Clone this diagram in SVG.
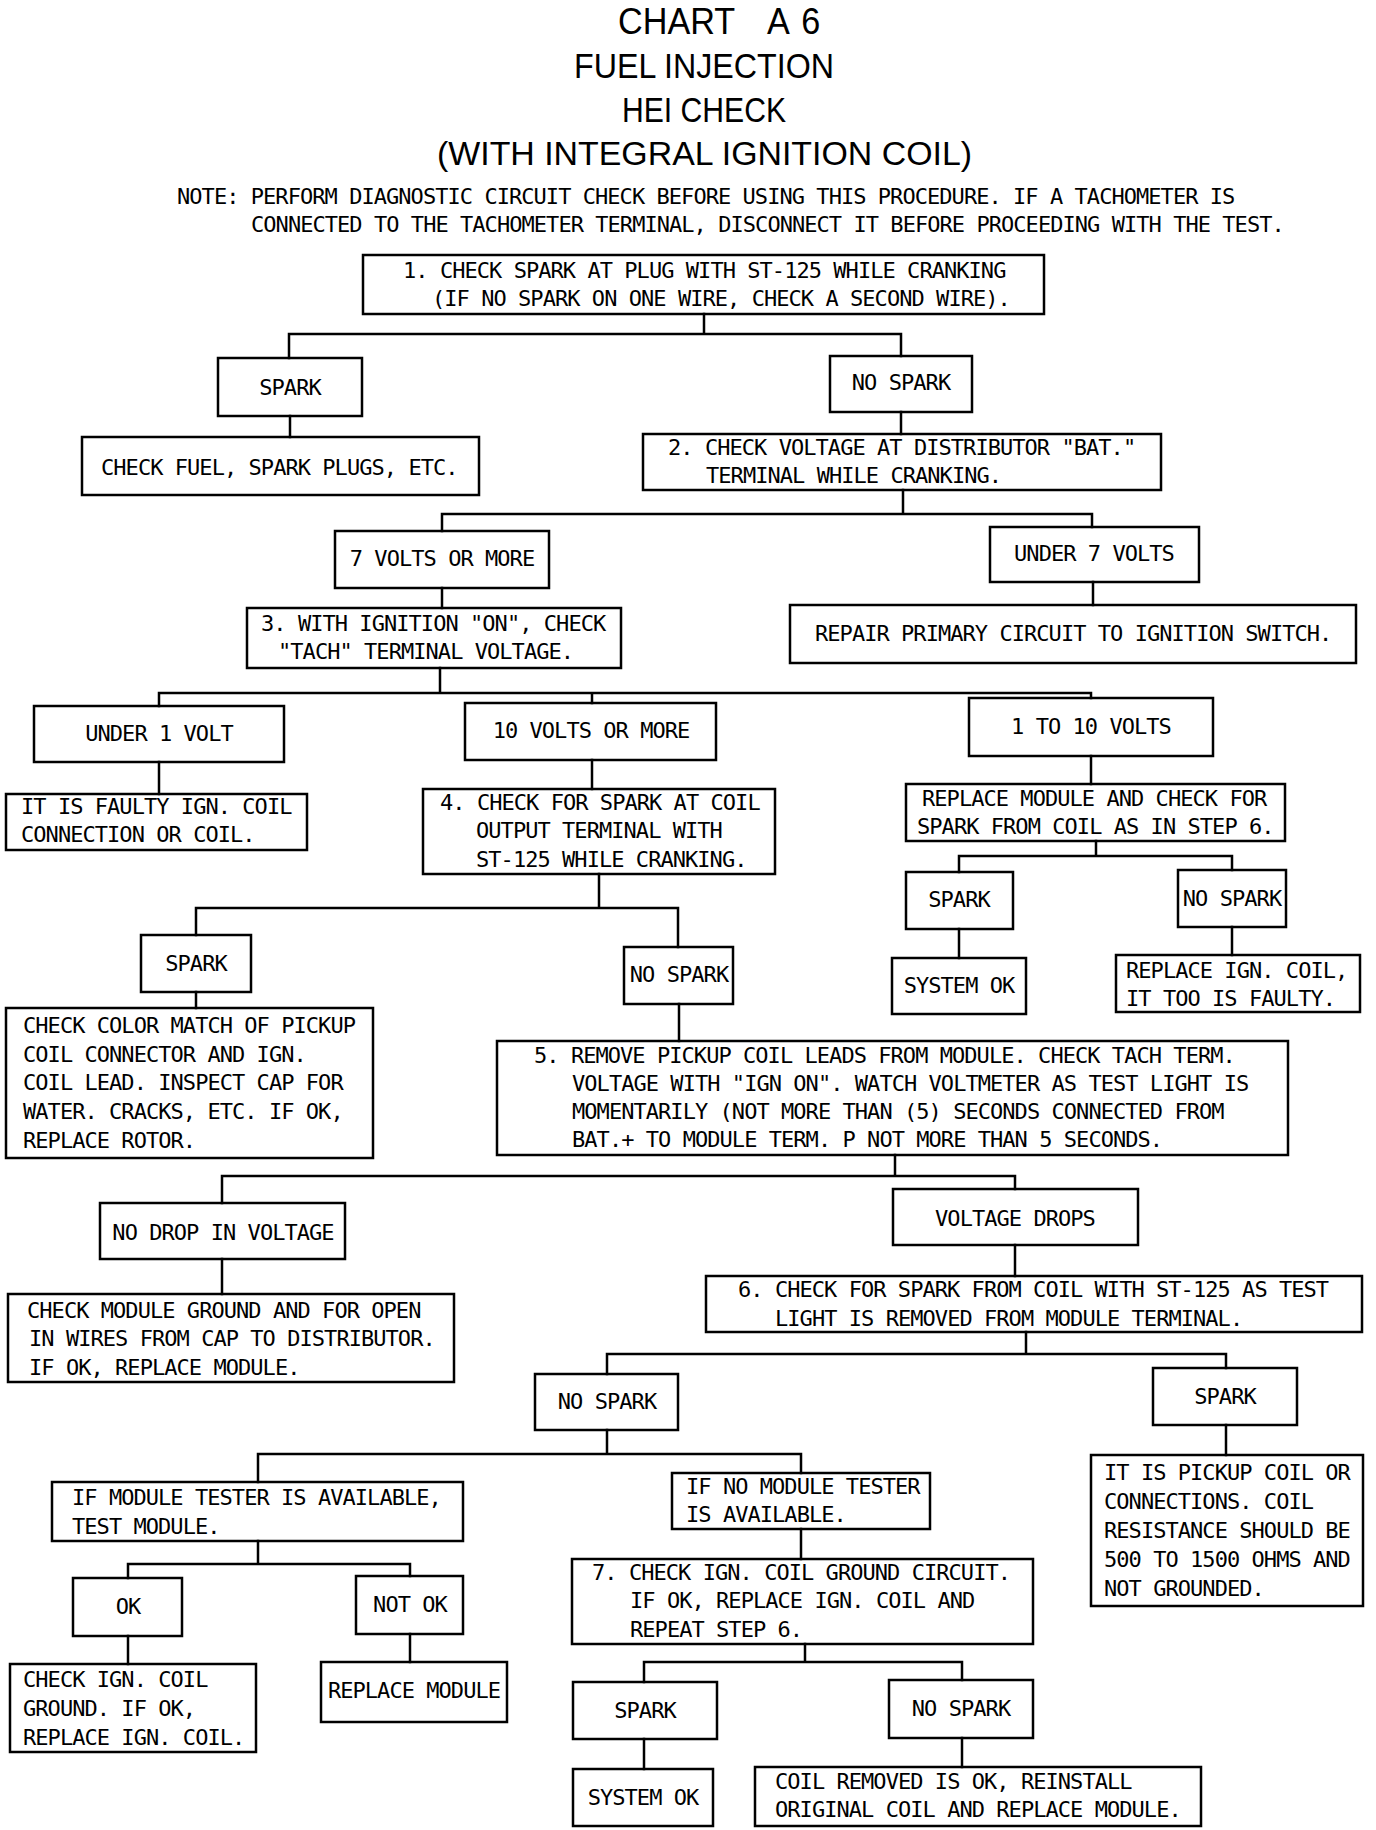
<svg xmlns="http://www.w3.org/2000/svg" width="1376" height="1830" viewBox="0 0 1376 1830">
<style>
.b{fill:none;stroke:#000;stroke-width:2.5}
.t{font-family:"DejaVu Sans Mono",monospace;font-size:22px;letter-spacing:-0.95px;fill:#000}
.c{text-anchor:middle}
.h{font-family:"Liberation Sans",sans-serif;fill:#000}
#connectors path{fill:none;stroke:#000;stroke-width:2.5;stroke-linecap:square}
</style>
<rect width="1376" height="1830" fill="#fff"/>
<g id="title">
<text class="h" font-size="37" transform="translate(618 34) scale(0.925 1)">CHART <tspan x="161">A</tspan><tspan x="198">6</tspan></text>
<text class="h" x="574" y="78" font-size="35" textLength="260" lengthAdjust="spacingAndGlyphs">FUEL INJECTION</text>
<text class="h" x="622" y="122" font-size="35" textLength="164" lengthAdjust="spacingAndGlyphs">HEI CHECK</text>
<text class="h" x="437" y="165" font-size="33" textLength="535" lengthAdjust="spacingAndGlyphs">(WITH INTEGRAL IGNITION COIL)</text>
<text class="t" x="177" y="204">NOTE: PERFORM DIAGNOSTIC CIRCUIT CHECK BEFORE USING THIS PROCEDURE. IF A TACHOMETER IS</text>
<text class="t" x="251" y="232">CONNECTED TO THE TACHOMETER TERMINAL, DISCONNECT IT BEFORE PROCEEDING WITH THE TEST.</text>
</g>
<g id="connectors">
<path d="M704 314V334M289 334H901M289 334V358M901 334V356"/>
<path d="M290 416V437"/>
<path d="M901 412V434"/>
<path d="M903 490V514M442 514H1092M442 514V531M1092 514V527"/>
<path d="M442 588V608"/>
<path d="M1093 582V605"/>
<path d="M440 668V693M159 693H1091M159 693V706M592 693V703M1091 693V698"/>
<path d="M159 762V794"/>
<path d="M592 760V789"/>
<path d="M599 874V908M196 908H678M196 908V935M678 908V947"/>
<path d="M196 992V1008"/>
<path d="M679 1004V1041"/>
<path d="M1091 756V784"/>
<path d="M1096 841V856M959 856H1232M959 856V872M1232 856V870"/>
<path d="M959 929V958"/>
<path d="M1232 927V955"/>
<path d="M895 1155V1176M222 1176H1015M222 1176V1203M1015 1176V1189"/>
<path d="M222 1259V1294"/>
<path d="M1015 1245V1276"/>
<path d="M1026 1332V1354M607 1354H1226M607 1354V1374M1226 1354V1368"/>
<path d="M1226 1425V1455"/>
<path d="M607 1430V1454M258 1454H801M258 1454V1482M801 1454V1473"/>
<path d="M258 1541V1564M128 1564H410M128 1564V1578M410 1564V1576"/>
<path d="M128 1636V1664"/>
<path d="M410 1634V1662"/>
<path d="M801 1529V1559"/>
<path d="M805 1644V1662M644 1662H962M644 1662V1682M962 1662V1680"/>
<path d="M644 1739V1769"/>
<path d="M962 1738V1767"/>
</g>
<g id="n1"><rect class="b" x="363" y="255" width="681" height="59"/>
<text class="t" x="403" y="278">1. CHECK SPARK AT PLUG WITH ST-125 WHILE CRANKING</text>
<text class="t" x="432" y="306">(IF NO SPARK ON ONE WIRE, CHECK A SECOND WIRE).</text></g>
<g id="n1spark"><rect class="b" x="218" y="358" width="144" height="58"/><text class="t c" x="290" y="395">SPARK</text></g>
<g id="n1fuel"><rect class="b" x="82" y="437" width="397" height="58"/><text class="t" x="101" y="475">CHECK FUEL, SPARK PLUGS, ETC.</text></g>
<g id="n1nospark"><rect class="b" x="830" y="356" width="142" height="56"/><text class="t c" x="901" y="390">NO SPARK</text></g>
<g id="n2"><rect class="b" x="643" y="434" width="518" height="56"/>
<text class="t" x="668" y="455">2. CHECK VOLTAGE AT DISTRIBUTOR "BAT."</text>
<text class="t" x="706" y="483">TERMINAL WHILE CRANKING.</text></g>
<g id="n2more"><rect class="b" x="335" y="531" width="214" height="57"/><text class="t c" x="442" y="566">7 VOLTS OR MORE</text></g>
<g id="n2under"><rect class="b" x="990" y="527" width="209" height="55"/><text class="t c" x="1094" y="561">UNDER 7 VOLTS</text></g>
<g id="n2repair"><rect class="b" x="790" y="605" width="566" height="58"/><text class="t" x="815" y="641">REPAIR PRIMARY CIRCUIT TO IGNITION SWITCH.</text></g>
<g id="n3"><rect class="b" x="247" y="608" width="374" height="60"/>
<text class="t" x="261" y="631">3. WITH IGNITION "ON", CHECK</text>
<text class="t" x="278" y="659">"TACH" TERMINAL VOLTAGE.</text></g>
<g id="n3under"><rect class="b" x="34" y="706" width="250" height="56"/><text class="t c" x="159" y="741">UNDER 1 VOLT</text></g>
<g id="n3more"><rect class="b" x="465" y="703" width="251" height="57"/><text class="t c" x="591" y="738">10 VOLTS OR MORE</text></g>
<g id="n3mid"><rect class="b" x="969" y="698" width="244" height="58"/><text class="t c" x="1091" y="734">1 TO 10 VOLTS</text></g>
<g id="n3faulty"><rect class="b" x="6" y="794" width="301" height="56"/>
<text class="t" x="21" y="814">IT IS FAULTY IGN. COIL</text>
<text class="t" x="21" y="842">CONNECTION OR COIL.</text></g>
<g id="n4"><rect class="b" x="423" y="789" width="352" height="85"/>
<text class="t" x="440" y="810">4. CHECK FOR SPARK AT COIL</text>
<text class="t" x="476" y="838">OUTPUT TERMINAL WITH</text>
<text class="t" x="476" y="867">ST-125 WHILE CRANKING.</text></g>
<g id="n4spark"><rect class="b" x="141" y="935" width="110" height="57"/><text class="t c" x="196" y="971">SPARK</text></g>
<g id="n4color"><rect class="b" x="6" y="1008" width="367" height="150"/>
<text class="t" x="23" y="1033">CHECK COLOR MATCH OF PICKUP</text>
<text class="t" x="23" y="1062">COIL CONNECTOR AND IGN.</text>
<text class="t" x="23" y="1090">COIL LEAD. INSPECT CAP FOR</text>
<text class="t" x="23" y="1119">WATER. CRACKS, ETC. IF OK,</text>
<text class="t" x="23" y="1148">REPLACE ROTOR.</text></g>
<g id="n4nospark"><rect class="b" x="624" y="947" width="109" height="57"/><text class="t c" x="679" y="982">NO SPARK</text></g>
<g id="n5"><rect class="b" x="497" y="1041" width="791" height="114"/>
<text class="t" x="534" y="1063">5. REMOVE PICKUP COIL LEADS FROM MODULE. CHECK TACH TERM.</text>
<text class="t" x="572" y="1091">VOLTAGE WITH "IGN ON". WATCH VOLTMETER AS TEST LIGHT IS</text>
<text class="t" x="572" y="1119">MOMENTARILY (NOT MORE THAN (5) SECONDS CONNECTED FROM</text>
<text class="t" x="572" y="1147">BAT.+ TO MODULE TERM. P NOT MORE THAN 5 SECONDS.</text></g>
<g id="nrepmod"><rect class="b" x="906" y="784" width="379" height="57"/>
<text class="t" x="922" y="806">REPLACE MODULE AND CHECK FOR</text>
<text class="t" x="917" y="834">SPARK FROM COIL AS IN STEP 6.</text></g>
<g id="nrepspark"><rect class="b" x="906" y="872" width="107" height="57"/><text class="t c" x="959" y="907">SPARK</text></g>
<g id="nrepnospark"><rect class="b" x="1178" y="870" width="108" height="57"/><text class="t c" x="1232" y="906">NO SPARK</text></g>
<g id="nrepok"><rect class="b" x="892" y="958" width="134" height="56"/><text class="t c" x="959" y="993">SYSTEM OK</text></g>
<g id="nrepcoil"><rect class="b" x="1116" y="955" width="244" height="57"/>
<text class="t" x="1126" y="978">REPLACE IGN. COIL,</text>
<text class="t" x="1126" y="1006">IT TOO IS FAULTY.</text></g>
<g id="n5nodrop"><rect class="b" x="100" y="1203" width="245" height="56"/><text class="t c" x="223" y="1240">NO DROP IN VOLTAGE</text></g>
<g id="n5ground"><rect class="b" x="8" y="1294" width="446" height="88"/>
<text class="t" x="27" y="1318">CHECK MODULE GROUND AND FOR OPEN</text>
<text class="t" x="29" y="1346">IN WIRES FROM CAP TO DISTRIBUTOR.</text>
<text class="t" x="29" y="1375">IF OK, REPLACE MODULE.</text></g>
<g id="n5drops"><rect class="b" x="893" y="1189" width="245" height="56"/><text class="t c" x="1015" y="1226">VOLTAGE DROPS</text></g>
<g id="n6"><rect class="b" x="706" y="1276" width="656" height="56"/>
<text class="t" x="738" y="1297">6. CHECK FOR SPARK FROM COIL WITH ST-125 AS TEST</text>
<text class="t" x="775" y="1326">LIGHT IS REMOVED FROM MODULE TERMINAL.</text></g>
<g id="n6nospark"><rect class="b" x="535" y="1374" width="143" height="56"/><text class="t c" x="607" y="1409">NO SPARK</text></g>
<g id="n6spark"><rect class="b" x="1153" y="1368" width="144" height="57"/><text class="t c" x="1225" y="1404">SPARK</text></g>
<g id="n6pickup"><rect class="b" x="1091" y="1455" width="272" height="151"/>
<text class="t" x="1104" y="1480">IT IS PICKUP COIL OR</text>
<text class="t" x="1104" y="1509">CONNECTIONS. COIL</text>
<text class="t" x="1104" y="1538">RESISTANCE SHOULD BE</text>
<text class="t" x="1104" y="1567">500 TO 1500 OHMS AND</text>
<text class="t" x="1104" y="1596">NOT GROUNDED.</text></g>
<g id="ntester"><rect class="b" x="52" y="1482" width="411" height="59"/>
<text class="t" x="72" y="1505">IF MODULE TESTER IS AVAILABLE,</text>
<text class="t" x="72" y="1534">TEST MODULE.</text></g>
<g id="nnotester"><rect class="b" x="672" y="1473" width="258" height="56"/>
<text class="t" x="686" y="1494">IF NO MODULE TESTER</text>
<text class="t" x="686" y="1522">IS AVAILABLE.</text></g>
<g id="nok"><rect class="b" x="73" y="1578" width="109" height="58"/><text class="t c" x="128" y="1614">OK</text></g>
<g id="nnotok"><rect class="b" x="356" y="1576" width="107" height="58"/><text class="t c" x="410" y="1612">NOT OK</text></g>
<g id="nokcoil"><rect class="b" x="10" y="1664" width="246" height="88"/>
<text class="t" x="23" y="1687">CHECK IGN. COIL</text>
<text class="t" x="23" y="1716">GROUND. IF OK,</text>
<text class="t" x="23" y="1745">REPLACE IGN. COIL.</text></g>
<g id="nrepmodule"><rect class="b" x="321" y="1662" width="186" height="60"/><text class="t c" x="414" y="1698">REPLACE MODULE</text></g>
<g id="n7"><rect class="b" x="572" y="1559" width="461" height="85"/>
<text class="t" x="592" y="1580">7. CHECK IGN. COIL GROUND CIRCUIT.</text>
<text class="t" x="630" y="1608">IF OK, REPLACE IGN. COIL AND</text>
<text class="t" x="630" y="1637">REPEAT STEP 6.</text></g>
<g id="n7spark"><rect class="b" x="573" y="1682" width="144" height="57"/><text class="t c" x="645" y="1718">SPARK</text></g>
<g id="n7nospark"><rect class="b" x="889" y="1680" width="144" height="58"/><text class="t c" x="961" y="1716">NO SPARK</text></g>
<g id="n7ok"><rect class="b" x="573" y="1769" width="140" height="57"/><text class="t c" x="643" y="1805">SYSTEM OK</text></g>
<g id="n7coil"><rect class="b" x="755" y="1767" width="446" height="59"/>
<text class="t" x="775" y="1789">COIL REMOVED IS OK, REINSTALL</text>
<text class="t" x="775" y="1817">ORIGINAL COIL AND REPLACE MODULE.</text></g>
</svg>
